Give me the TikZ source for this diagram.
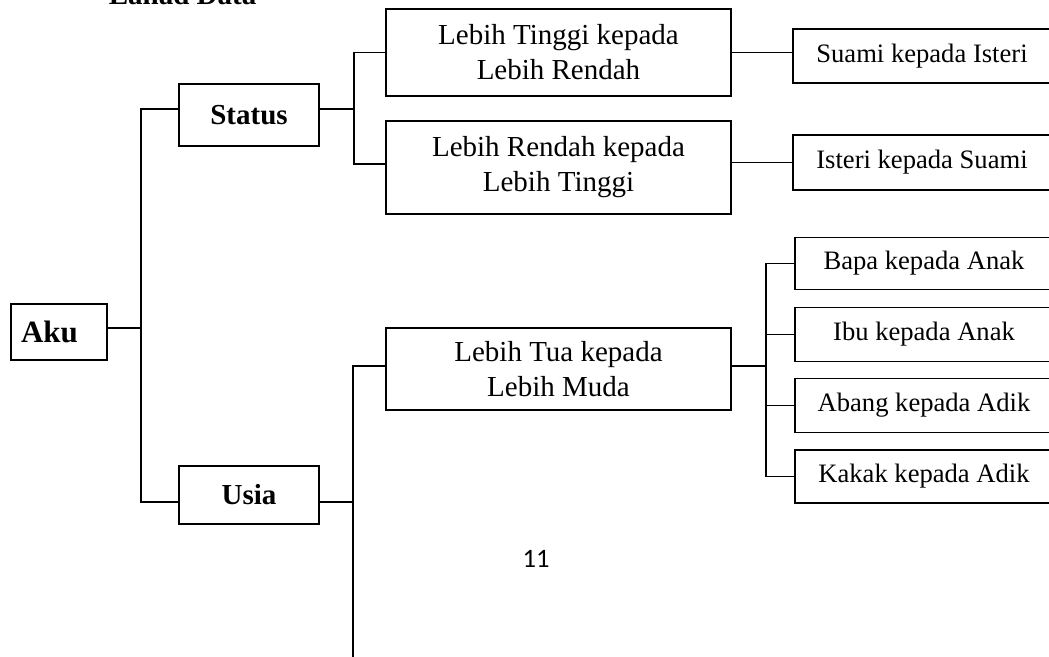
\documentclass[tikz,border=0pt]{standalone}
\usepackage{fontspec}
\setmainfont{Liberation Serif}
\newfontfamily\pagefont{Carlito}
\usetikzlibrary{calc}

\begin{document}
\begin{tikzpicture}[x=1pt,y=-1pt,line width=1.8pt,node distance=71pt]
  \tikzstyle{box}=[rectangle,draw=black,fill=white,inner sep=0pt,align=center,
                   font=\fontsize{29}{35}\selectfont]
  \tikzstyle{head}=[box,font=\fontsize{29}{35}\selectfont\bfseries,minimum width=140pt]
  \tikzstyle{wide}=[box,minimum width=345pt]
  \tikzstyle{leaf}=[box,minimum width=258pt,font=\fontsize{26.6}{32}\selectfont]

  \useasboundingbox (0,0) rectangle (1049,656);
  \clip (0,0) rectangle (1049,656);

  \node[anchor=base west,inner sep=0pt,font=\fontsize{29}{35}\selectfont\bfseries] (title) at (108,4) {Lanad Data};

  \node[box,font=\fontsize{31}{37}\selectfont\bfseries,inner xsep=10pt,text width=76pt,
        align=left,minimum height=56pt] (aku) at (59,332) {Aku};
  \node[head,minimum height=62pt] (status) at (249,115) {Status};
  \node[head,minimum height=58pt] (usia)   at (249,495) {Usia};

  \node[wide,minimum height=87pt] (tinggi) at (558.5,52.5)  {Lebih Tinggi kepada\\Lebih Rendah};
  \node[wide,minimum height=93pt] (rendah) at (558.5,167.5) {Lebih Rendah kepada\\Lebih Tinggi};
  \node[wide,minimum height=82pt] (tua)    at (558.5,369)   {Lebih Tua kepada\\Lebih Muda};

  \node[leaf,minimum height=54pt] (suami)  at (922,56)    {Suami kepada Isteri};
  \node[leaf,minimum height=55pt] (isteri) at (922,162.5) {Isteri kepada Suami};

  \node[leaf,minimum height=52pt] (bapa)  at (924,263.5)  {Bapa kepada Anak};
  \node[leaf,minimum height=54pt] (ibu)   [below of=bapa]  {Ibu kepada Anak};
  \node[leaf,minimum height=54pt] (abang) [below of=ibu]   {Abang kepada Adik};
  \node[leaf,minimum height=53pt] (kakak) [below of=abang] {Kakak kepada Adik};

  \node[font=\pagefont\fontsize{26.6}{32}\selectfont] (page) at (536,559) {11};

  % Aku
  \draw ([yshift=4pt]aku.east) -- ++(33,0) coordinate (spine);
  \draw ([yshift=6pt]status.west) -| (spine) |- ([yshift=-7pt]usia.west);

  % Status
  \draw ([yshift=6pt]status.east) -- ++(34,0) coordinate (sfork);
  \draw (tinggi.west) -| (sfork) |- ([yshift=3.5pt]rendah.west);
  \draw (tinggi.east) -- (tinggi.east -| suami.west);
  \draw (isteri.west) -- (isteri.west -| rendah.east);

  % Usia
  \draw ([yshift=-7pt]usia.east) -- ++(34,0) coordinate (ufork);
  \coordinate (uend) at (353,660);
  \draw ([yshift=3pt]tua.west) -| (uend);
  \draw ([yshift=3pt]tua.east) -- ++(34,0) coordinate (tfork);
  \draw (bapa.west) -| (tfork) |- (kakak.west);
  \draw (ibu.west) -- (ibu.west -| tfork);
  \draw (abang.west) -- (abang.west -| tfork);
\end{tikzpicture}
\end{document}
